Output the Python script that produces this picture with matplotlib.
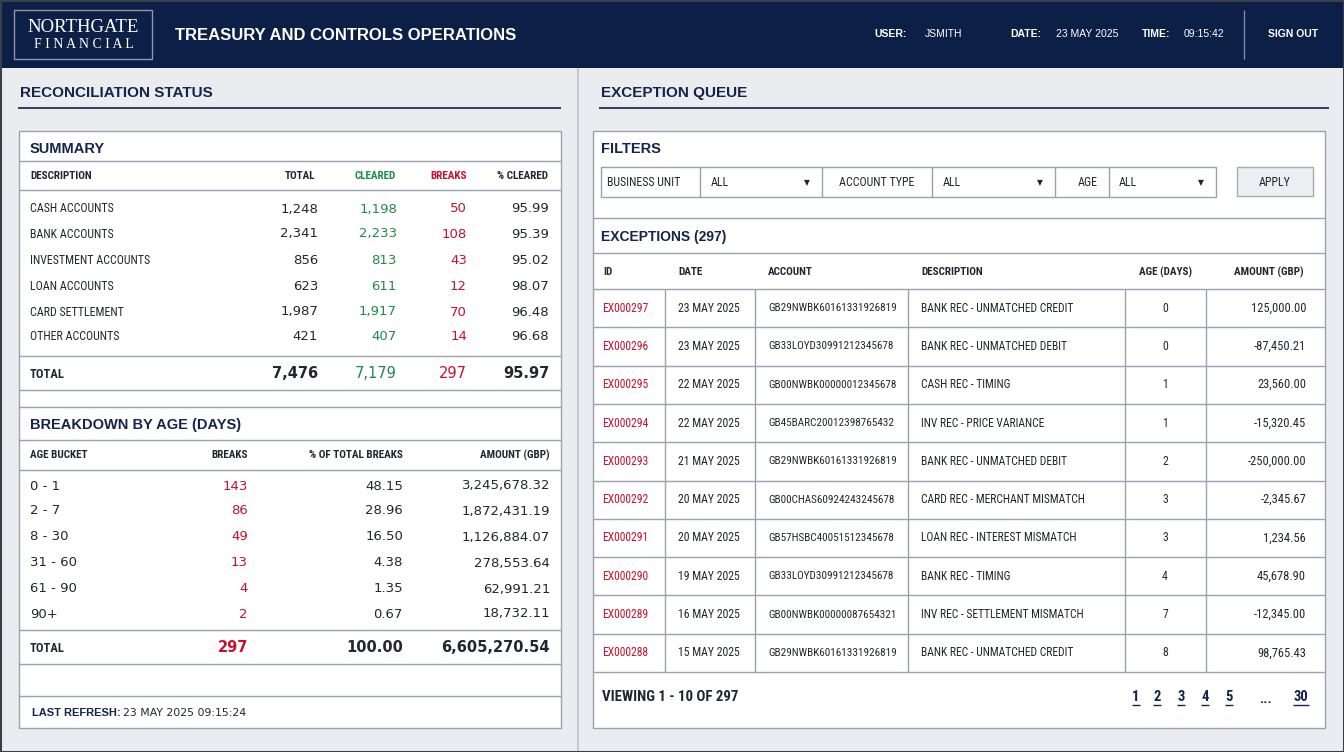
import matplotlib
matplotlib.use("Agg")
from matplotlib import pyplot as plt
from matplotlib import font_manager as fm
from matplotlib.patches import Rectangle

plt.rcParams['font.family'] = ['Liberation Sans', 'DejaVu Sans']

# colours
NAVY = '#0c1f46'
HEAD = '#14244a'
RED = '#c8102e'
GREEN = '#1f8a46'
INK = '#222630'
LINE = '#9aa2ae'
BG = '#eaecef'

# summary table
sum_desc = ["CASH ACCOUNTS", "BANK ACCOUNTS", "INVESTMENT ACCOUNTS", "LOAN ACCOUNTS",
            "CARD SETTLEMENT", "OTHER ACCOUNTS"]
sum_total = [1248, 2341, 856, 623, 1987, 421]
sum_cleared = [1198, 2233, 813, 611, 1917, 407]
sum_breaks = [50, 108, 43, 12, 70, 14]
sum_pct = [95.99, 95.39, 95.02, 98.07, 96.48, 96.68]
sum_totals = [7476, 7179, 297, 95.97]

# breakdown by age
age_buckets = ["0 - 1", "2 - 7", "8 - 30", "31 - 60", "61 - 90", "90+"]
age_breaks = [143, 86, 49, 13, 4, 2]
age_pct = [48.15, 28.96, 16.50, 4.38, 1.35, 0.67]
age_amount = [3245678.32, 1872431.19, 1126884.07, 278553.64, 62991.21, 18732.11]
age_totals = [297, 100.00, 6605270.54]

# exception queue
exc_id = ["EX000297", "EX000296", "EX000295", "EX000294", "EX000293",
          "EX000292", "EX000291", "EX000290", "EX000289", "EX000288"]
exc_date = ["23 MAY 2025", "23 MAY 2025", "22 MAY 2025", "22 MAY 2025", "21 MAY 2025",
            "20 MAY 2025", "20 MAY 2025", "19 MAY 2025", "16 MAY 2025", "15 MAY 2025"]
exc_account = ["GB29NWBK60161331926819", "GB33LOYD30991212345678", "GB00NWBK00000012345678",
               "GB45BARC20012398765432", "GB29NWBK60161331926819", "GB00CHAS60924243245678",
               "GB57HSBC40051512345678", "GB33LOYD30991212345678", "GB00NWBK00000087654321",
               "GB29NWBK60161331926819"]
exc_desc = ["BANK REC - UNMATCHED CREDIT", "BANK REC - UNMATCHED DEBIT", "CASH REC - TIMING",
            "INV REC - PRICE VARIANCE", "BANK REC - UNMATCHED DEBIT", "CARD REC - MERCHANT MISMATCH",
            "LOAN REC - INTEREST MISMATCH", "BANK REC - TIMING", "INV REC - SETTLEMENT MISMATCH",
            "BANK REC - UNMATCHED CREDIT"]
exc_age = [0, 0, 1, 1, 2, 3, 3, 4, 7, 8]
exc_amount = [125000.00, -87450.21, 23560.00, -15320.45, -250000.00,
              -2345.67, 1234.56, 45678.90, -12345.00, 98765.43]
pages = ["1", "2", "3", "4", "5", "30"]


# look for a narrow / condensed face among the installed fonts
def find_narrow(bold):
    prefs = ['liberation sans narrow', 'roboto condensed', 'dejavu sans condensed',
             'dejavusanscondensed', 'notosans-condensed', 'noto sans condensed', 'opensans-condensed',
             'open sans condensed', 'condensed', 'narrow']
    found = []
    for f in fm.fontManager.ttflist:
        key = (f.name + ' ' + f.fname.split('/')[-1]).lower()
        if 'italic' in key or 'oblique' in key or f.style != 'normal':
            continue
        if any(k in key for k in ('extra', 'ultra', 'semi', 'light', 'thin', 'black', 'medium')):
            continue
        w = f.weight if isinstance(f.weight, int) else (700 if 'bold' in str(f.weight) else 400)
        if (w >= 600) != bold:
            continue
        for rank, p in enumerate(prefs):
            if p in key:
                found.append((rank, f.fname))
                break
    if not found:
        return None
    found.sort()
    return found[0][1]


n_reg = find_narrow(False)
n_bold = find_narrow(True) or n_reg
NARROW = fm.FontProperties(fname=n_reg) if n_reg else None
NARROW_B = fm.FontProperties(fname=n_bold) if n_bold else None

fig = plt.figure(figsize=(13.44, 7.52), dpi=100)
ax = fig.add_axes([0, 0, 1, 1])
ax.set_xlim(0, 1344)
ax.set_ylim(752, 0)
ax.axis('off')


def rect(x0, y0, x1, y1, fc='white', ec=LINE, lw=1.0, z=1):
    ax.add_patch(Rectangle((x0, y0), x1 - x0, y1 - y0, facecolor=fc, edgecolor=ec, lw=lw, zorder=z))


def hl(x0, x1, y, c=LINE, lw=1.0):
    ax.plot([x0, x1], [y, y], color=c, lw=lw, zorder=3, solid_capstyle='butt')


def vl(x, y0, y1, c=LINE, lw=1.0):
    ax.plot([x, x], [y0, y1], color=c, lw=lw, zorder=3, solid_capstyle='butt')


def t(x, y, s, size=8.5, c=INK, ha='left', bold=False, **kw):
    ax.text(x, y, s, fontsize=size, color=c, ha=ha, va='center',
            fontweight='bold' if bold else 'normal', zorder=4, **kw)


def n(x, y, s, size=9, c=INK, ha='left', bold=False):
    # condensed table text
    fp = NARROW_B if bold else NARROW
    if fp is None:
        t(x, y, s, size=size * 0.85, c=c, ha=ha, bold=bold, family=['DejaVu Sans'])
        return
    fp = fp.copy()
    fp.set_size(size)
    ax.text(x, y, s, fontproperties=fp, color=c, ha=ha, va='center', zorder=4)


DV = ['DejaVu Sans']
SERIF = ['Liberation Serif', 'DejaVu Serif']

# background
rect(0, 0, 1344, 752, fc=BG, ec='none', z=0)
rect(0, 0, 1344, 68, fc=NAVY, ec='none', z=1)
rect(0.5, 0.5, 1343.5, 751.5, fc='none', ec='#3a3f48', lw=1.5, z=6)

# header
rect(14, 10, 152, 59, fc='none', ec='#8c97ab', lw=1.0, z=2)
t(83, 27, "NORTHGATE", size=13.5, c='white', ha='center', family=SERIF)
t(84, 45, "F I N A N C I A L", size=10, c='white', ha='center', family=SERIF)
t(175, 35, "TREASURY AND CONTROLS OPERATIONS", size=12, c='white', bold=True)
t(874, 34, "USER:", size=7.5, c='white', bold=True)
t(925, 34, "JSMITH", size=7.5, c='white')
t(1010, 34, "DATE:", size=7.5, c='white', bold=True)
t(1056, 34, "23 MAY 2025", size=7.5, c='white')
t(1142, 34, "TIME:", size=7.5, c='white', bold=True)
t(1184, 34, "09:15:42", size=7.5, c='white')
vl(1244, 10, 59, c='#7d889c')
t(1293, 34, "SIGN OUT", size=7.5, c='white', bold=True, ha='center')

# panel divider
vl(578, 68, 752, c='#c4c8cf', lw=1.5)

# ---------------- left panel ----------------
t(20, 93, "RECONCILIATION STATUS", size=11, c=HEAD, bold=True)
hl(18, 561, 108, c=HEAD, lw=1.2)
rect(19, 131, 561, 728)

t(30, 149, "SUMMARY", size=10.5, c=HEAD, bold=True)
hl(19, 561, 161)
n(30, 176, "DESCRIPTION", size=8, bold=True)
n(315, 176, "TOTAL", size=8, bold=True, ha='right')
n(396, 176, "CLEARED", size=8, bold=True, ha='right', c=GREEN)
n(467, 176, "BREAKS", size=8, bold=True, ha='right', c=RED)
n(548, 176, "% CLEARED", size=8, bold=True, ha='right')
hl(19, 561, 190)
sum_y = [209, 234, 260, 286, 312, 337]
for i, y in enumerate(sum_y):
    n(30, y, sum_desc[i], size=8.6)
    t(318, y, f"{sum_total[i]:,}", size=9.5, ha='right', family=DV)
    t(397, y, f"{sum_cleared[i]:,}", size=9.5, ha='right', c=GREEN, family=DV)
    t(467, y, f"{sum_breaks[i]}", size=9.5, ha='right', c=RED, family=DV)
    t(549, y, f"{sum_pct[i]:.2f}", size=9.5, ha='right', family=DV)
hl(19, 561, 356)
n(30, 374, "TOTAL", size=9, bold=True)
t(318, 374, f"{sum_totals[0]:,}", size=10.5, ha='right', bold=True, family=DV)
t(397, 374, f"{sum_totals[1]:,}", size=10.5, ha='right', c=GREEN, family=DV)
t(467, 374, f"{sum_totals[2]}", size=10.5, ha='right', c=RED, family=DV)
t(549, 374, f"{sum_totals[3]:.2f}", size=10.5, ha='right', bold=True, family=DV)
hl(19, 561, 390)
hl(19, 561, 407)

t(30, 425, "BREAKDOWN BY AGE (DAYS)", size=10.5, c=HEAD, bold=True)
hl(19, 561, 440)
n(30, 455, "AGE BUCKET", size=8, bold=True)
n(248, 455, "BREAKS", size=8, bold=True, ha='right')
n(403, 455, "% OF TOTAL BREAKS", size=8, bold=True, ha='right')
n(550, 455, "AMOUNT (GBP)", size=8, bold=True, ha='right')
hl(19, 561, 470)
age_y = [486, 511, 537, 563, 589, 614]
for i, y in enumerate(age_y):
    t(30, y, age_buckets[i], size=9.5, family=DV)
    t(248, y, f"{age_breaks[i]}", size=9.5, ha='right', c=RED, family=DV)
    t(403, y, f"{age_pct[i]:.2f}", size=9.5, ha='right', family=DV)
    t(550, y, f"{age_amount[i]:,.2f}", size=9.5, ha='right', family=DV)
hl(19, 561, 630)
n(30, 648, "TOTAL", size=9, bold=True)
t(248, 648, f"{age_totals[0]}", size=10.5, ha='right', c=RED, bold=True, family=DV)
t(403, 648, f"{age_totals[1]:.2f}", size=10.5, ha='right', bold=True, family=DV)
t(550, 648, f"{age_totals[2]:,.2f}", size=10.5, ha='right', bold=True, family=DV)
hl(19, 561, 664)
hl(19, 561, 696)
t(32, 713, "LAST REFRESH:", size=8, bold=True, c=HEAD)
t(123, 713, "23 MAY 2025 09:15:24", size=7.8, c=INK, family=DV)

# ---------------- right panel ----------------
t(601, 93, "EXCEPTION QUEUE", size=11, c=HEAD, bold=True)
hl(599, 1329, 108, c=HEAD, lw=1.2)
rect(593, 131, 1325, 728)

t(601, 149, "FILTERS", size=10.5, c=HEAD, bold=True)
rect(601, 167, 1216, 197, fc='white', z=2)
for x in [700, 822, 932, 1055, 1109]:
    vl(x, 167, 197)
n(607, 183, "BUSINESS UNIT", size=8.6)
n(711, 183, "ALL", size=8.6)
t(807, 183, "▼", size=5.5, ha='center', family=DV)
n(877, 183, "ACCOUNT TYPE", size=8.6, ha='center')
n(943, 183, "ALL", size=8.6)
t(1040, 183, "▼", size=5.5, ha='center', family=DV)
n(1098, 183, "AGE", size=8.6, ha='right')
n(1119, 183, "ALL", size=8.6)
t(1201, 183, "▼", size=5.5, ha='center', family=DV)
rect(1237, 167, 1313, 196, fc='#eceef1', ec='#a7adb7', z=2)
n(1275, 182, "APPLY", size=8.6, ha='center')
hl(593, 1325, 218)

t(601, 237, "EXCEPTIONS (297)", size=10, c=HEAD, bold=True)
hl(593, 1325, 253)
n(603, 272, "ID", size=8, bold=True)
n(678, 272, "DATE", size=8, bold=True)
n(768, 272, "ACCOUNT", size=8, bold=True)
n(921, 272, "DESCRIPTION", size=8, bold=True)
n(1166, 272, "AGE (DAYS)", size=8, bold=True, ha='center')
n(1304, 272, "AMOUNT (GBP)", size=8, bold=True, ha='right')
row_h = 38.3
top = 289
hl(593, 1325, top)
for i in range(len(exc_id)):
    yc = top + row_h * (i + 0.5)
    n(602, yc, exc_id[i], size=8.4, c=RED)
    n(678, yc, exc_date[i], size=8.5)
    n(768, yc, exc_account[i], size=8.0)
    n(921, yc, exc_desc[i], size=8.3)
    n(1165, yc, f"{exc_age[i]}", size=8.5, ha='center')
    n(1306, yc, f"{exc_amount[i]:,.2f}", size=9.0, ha='right')
    hl(593, 1325, top + row_h * (i + 1))
bottom = top + row_h * len(exc_id)
for x in [665, 755, 908, 1125, 1206]:
    vl(x, top, bottom)

n(602, 697, "VIEWING 1 - 10 OF 297", size=10.7, bold=True, c=INK)
page_x = [1136, 1157, 1181, 1205, 1229, 1301]
for px, p in zip(page_x, pages):
    n(px, 697, p, size=10.5, bold=True, c=HEAD, ha='center')
    w = 4 if len(p) == 1 else 8
    hl(px - w, px + w, 705, c=HEAD, lw=1.0)
n(1265, 699, "...", size=10.5, bold=True, c=HEAD, ha='center')

fig.savefig("out.png", dpi=100)
